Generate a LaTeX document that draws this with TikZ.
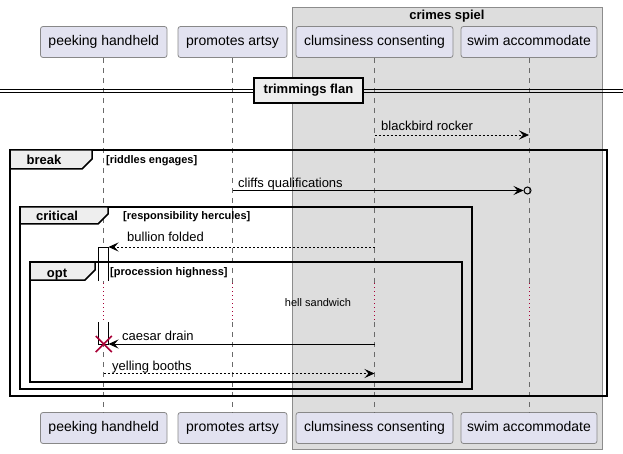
\documentclass[tikz,border=0pt]{standalone}
\usepackage{fontspec}
\setmainfont{Liberation Sans}
\usetikzlibrary{arrows.meta}
\definecolor{partfill}{HTML}{E2E2F0}
\definecolor{partdraw}{HTML}{888888}
\definecolor{grpfill}{HTML}{DDDDDD}
\definecolor{grpdraw}{HTML}{8C8C8C}
\definecolor{tabfill}{HTML}{EEEEEE}
\definecolor{lifered}{HTML}{A80036}
\definecolor{lifegray}{HTML}{6A6A6A}
\tikzset{
  participant/.style={draw=partdraw, fill=partfill, rounded corners=2.5pt, minimum height=31pt, inner sep=0pt, line width=0.8pt, font=\fontsize{14}{16}\selectfont, text height=10pt, text depth=3pt},
  lifeline/.style={draw=lifegray, dash pattern=on 5pt off 5pt, line width=0.7pt},
  delayline/.style={draw=lifered, dash pattern=on 1pt off 3pt, line width=0.9pt},
  framebox/.style={draw=black, line width=1.5pt},
  tabbox/.style={draw=black, fill=tabfill, line width=1.5pt},
  msgline/.style={line width=0.8pt, -{Stealth[length=10pt,width=9pt,inset=4pt]}},
  dmsgline/.style={msgline, dash pattern=on 2pt off 2pt},
  lbl/.style={font=\fontsize{13}{15}\selectfont, anchor=base west, inner sep=0pt},
  framelbl/.style={font=\bfseries\fontsize{13}{15}\selectfont, anchor=base, inner sep=0pt},
  guardlbl/.style={font=\bfseries\fontsize{11}{13}\selectfont, anchor=base west, inner sep=0pt},
  actbar/.style={draw=black, fill=white, line width=0.8pt}
}
\begin{document}
\begin{tikzpicture}[x=1pt,y=-1pt]
\useasboundingbox (0,0) rectangle (623,454);
% group box
\draw[draw=grpdraw, fill=grpfill, line width=0.9pt] (292,7) rectangle (602,449);
\node[framelbl] (grptitle) at (447,19.5) {crimes spiel};
% participants
\node[participant, minimum width=126.5pt] (pA) at (103.75,42) {peeking handheld};
\node[participant, minimum width=109pt] (pB) at (232.5,42) {promotes artsy};
\node[participant, minimum width=157pt] (pC) at (374.5,42) {clumsiness consenting};
\node[participant, minimum width=136pt] (pD) at (529,42) {swim accommodate};
\node[participant, minimum width=126.5pt] (qA) at (103.75,428) {peeking handheld};
\node[participant, minimum width=109pt] (qB) at (232.5,428) {promotes artsy};
\node[participant, minimum width=157pt] (qC) at (374.5,428) {clumsiness consenting};
\node[participant, minimum width=136pt] (qD) at (529,428) {swim accommodate};
% lifelines
\foreach \p/\q in {pA/qA,pB/qB,pC/qC,pD/qD}{
  \draw[lifeline] (\p.south) -- (\p.south |- 0,283);
  \draw[delayline] (\p.south |- 0,283) -- (\p.south |- 0,322);
  \draw[lifeline] (\p.south |- 0,322) -- (\q.north);
}
% divider
\draw[line width=0.8pt] (0,89.3) -- (623,89.3) (0,92.3) -- (623,92.3);
\node[draw=black, fill=tabfill, line width=2pt, minimum width=109pt, minimum height=25pt, inner sep=0pt, font=\bfseries\fontsize{13}{15}\selectfont, text height=9.5pt, text depth=3pt] (div) at (308.5,90.5) {trimmings flan};
% message 1
\coordinate (m1a) at (pC.south |- 0,135);
\coordinate (m1b) at (pD.south |- 0,135);
\draw[dmsgline] (m1a) -- (m1b);
\node[lbl] (l1) at (381,131) {blackbird rocker};
% activation bar
\draw[actbar] (98.5,281) -- (98.5,247) -- (108.5,247) -- (108.5,281);
\draw[actbar] (98.5,322) -- (98.5,344) -- (108.5,344) -- (108.5,322);
% break frame
\draw[framebox] (10,150) rectangle (607,396);
\draw[tabbox] (10,150) -- (92,150) -- (92,159) -- (82,169) -- (10,169) -- cycle;
\node[framelbl] (fbreak) at (44,164.5) {break};
\node[guardlbl] (gbreak) at (106,164) {[riddles engages]};
% message 2
\coordinate (m2a) at (pB.south |- 0,190.5);
\coordinate (m2b) at (523.5,190.5);
\draw[msgline] (m2a) -- (m2b);
\node[draw=black, line width=1pt, circle, minimum size=7pt, inner sep=0pt] (m2c) at (527.5,190.5) {};
\node[lbl] (l2) at (238,187.5) {cliffs qualifications};
% critical frame
\draw[framebox] (20,207) rectangle (472,389);
\draw[tabbox] (20,207) -- (108,207) -- (108,214) -- (98,224) -- (20,224) -- cycle;
\node[framelbl] (fcrit) at (57,220.5) {critical};
\node[guardlbl] (gcrit) at (123,220) {[responsibility hercules]};
% message 3
\coordinate (m3a) at (pC.south |- 0,247);
\coordinate (m3b) at (108.5,247);
\draw[dmsgline] (m3a) -- (m3b);
\node[lbl] (l3) at (127,241.5) {bullion folded};
% opt frame
\draw[framebox] (30,262) rectangle (462,382);
\draw[tabbox] (30,262) -- (95,262) -- (95,270) -- (85,280) -- (30,280) -- cycle;
\node[framelbl] (fopt) at (57,277) {opt};
\node[guardlbl] (gopt) at (110,275) {[procession highness]};
% delay
\node[font=\fontsize{11}{13}\selectfont, anchor=base, inner sep=0pt] (delay) at (318,306) {hell sandwich};
% message 4
\coordinate (m4a) at (pC.south |- 0,344);
\coordinate (m4b) at (108.5,344);
\draw[msgline] (m4a) -- (m4b);
\node[lbl] (l4) at (122,340.5) {caesar drain};
\coordinate (xd) at (pA.south |- 0,344);
\draw[draw=lifered, line width=1.6pt] ([shift={(-8,-8)}]xd) -- ([shift={(8,8)}]xd) ([shift={(-8,8)}]xd) -- ([shift={(8,-8)}]xd);
% message 5
\coordinate (m5a) at (pA.south |- 0,373.5);
\coordinate (m5b) at (pC.south |- 0,373.5);
\draw[dmsgline] (m5a) -- (m5b);
\node[lbl] (l5) at (112,370) {yelling booths};
\end{tikzpicture}
\end{document}
